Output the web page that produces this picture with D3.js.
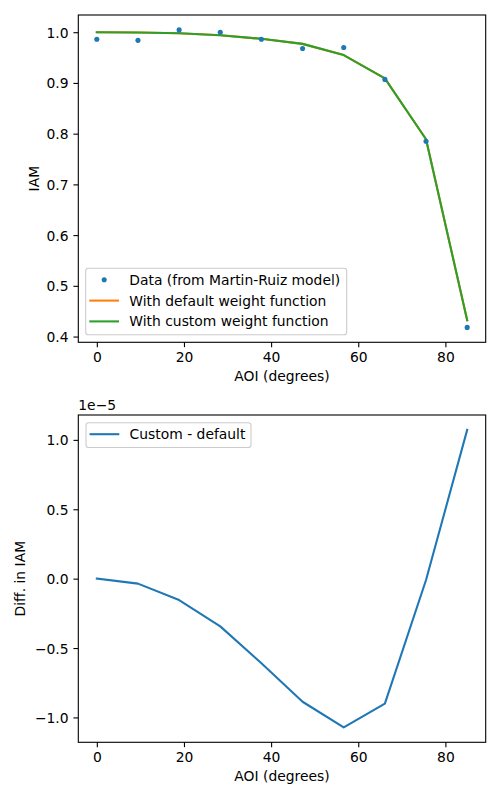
<!DOCTYPE html>
<html><head><meta charset="utf-8">
<script src="https://cdn.jsdelivr.net/npm/d3@7"></script>
<style>body{margin:0;background:#fff}svg{display:block}text{font-family:"DejaVu Sans",sans-serif;fill:#000}</style>
</head><body>
<script>
// ---- data ----
const aoi = [0, 9.444, 18.889, 28.333, 37.778, 47.222, 56.667, 66.111, 75.556, 85];
const iamData = [0.986, 0.984, 1.0046, 1.000, 0.986, 0.968, 0.970, 0.907, 0.785, 0.418];
const iamDefault = [1.000, 0.9995, 0.998, 0.994, 0.987, 0.977, 0.955, 0.909, 0.789, 0.432];
const iamCustom = [1.000, 0.9995, 0.998, 0.994, 0.987, 0.977, 0.955, 0.909, 0.789, 0.432];
const diffScaled = [0, -0.036, -0.154, -0.344, -0.61, -0.887, -1.072, -0.901, -0.01, 1.072]; // x 1e-5
const xTicks = [0, 20, 40, 60, 80];
const yTicksTop = [0.4, 0.5, 0.6, 0.7, 0.8, 0.9, 1.0];
const yTicksBottom = [-1.0, -0.5, 0.0, 0.5, 1.0];
const legendTop = ["Data (from Martin-Ruiz model)", "With default weight function", "With custom weight function"];
const legendBottom = ["Custom - default"];
const colors = {blue:"#1f77b4", orange:"#ff7f0e", green:"#2ca02c"};

const W = 500, H = 800, FS = 13.89, TL = 4.86, PAD = 4.86, DOT_R = 2.55;
const svg = d3.select("body").append("svg").attr("width", W).attr("height", H);

function pad(ext){ const r = ext[1]-ext[0]; return [ext[0]-0.05*r, ext[1]+0.05*r]; }
const fmtMinus = s => s.replace("-", "\u2212");

function makeAxes(top, bottom, yDomain, yTicks, yFmt, yLabel, yLabelX){
  const left = 78.3, right = 485.7;
  const x = d3.scaleLinear().domain(pad(d3.extent(aoi))).range([left, right]);
  const y = d3.scaleLinear().domain(yDomain).range([bottom, top]);
  const g = svg.append("g");
  const xa = g.append("g").attr("transform", `translate(0,${bottom})`)
    .call(d3.axisBottom(x).tickValues(xTicks).tickSize(TL).tickPadding(PAD).tickFormat(d3.format("d")));
  xa.select(".domain").remove();
  xa.selectAll("line").attr("stroke", "#000").attr("stroke-width", 1.1);
  xa.selectAll("text").attr("font-size", FS).attr("dy", null).attr("y", TL + PAD + 10.2);
  const ya = g.append("g").attr("transform", `translate(${left},0)`)
    .call(d3.axisLeft(y).tickValues(yTicks).tickSize(TL).tickPadding(PAD).tickFormat(d => fmtMinus(yFmt(d))));
  ya.select(".domain").remove();
  ya.selectAll("line").attr("stroke", "#000").attr("stroke-width", 1.1);
  ya.selectAll("text").attr("font-size", FS).attr("dy", "0.36em");
  ya.attr("font-family", null); xa.attr("font-family", null);
  g.append("text").attr("x", (left+right)/2).attr("y", bottom + 38.7).attr("text-anchor", "middle")
    .attr("font-size", FS).text("AOI (degrees)");
  g.append("text").attr("transform", `translate(${yLabelX},${(top+bottom)/2}) rotate(-90)`)
    .attr("text-anchor", "middle").attr("font-size", FS).text(yLabel);
  return {x, y, g, left, right, top, bottom};
}

function frame(ax){
  ax.g.append("rect").attr("x", ax.left).attr("y", ax.top).attr("width", ax.right-ax.left)
    .attr("height", ax.bottom-ax.top).attr("fill", "none").attr("stroke", "#000").attr("stroke-width", 1.1);
}

function legend(x0, y0, w, items){
  const g = svg.append("g");
  const h = items.length * 20.8 + 4;
  g.append("rect").attr("x", x0).attr("y", y0).attr("width", w).attr("height", h).attr("rx", 2.8)
    .attr("fill", "#fff").attr("fill-opacity", 0.8).attr("stroke", "#cccccc").attr("stroke-width", 1.1);
  items.forEach((it, i) => {
    const cy = y0 + 11.5 + i * 20.8;
    if (it.type === "dot") {
      g.append("circle").attr("cx", x0 + 18.5).attr("cy", cy).attr("r", DOT_R).attr("fill", it.color);
    } else {
      g.append("line").attr("x1", x0 + 3.6).attr("x2", x0 + 33.3).attr("y1", cy).attr("y2", cy)
        .attr("stroke", it.color).attr("stroke-width", 2.08);
    }
    g.append("text").attr("x", x0 + 43.6).attr("y", cy).attr("dy", "0.36em").attr("font-size", FS).text(it.label);
  });
}

// ---- top plot ----
const topDom = pad(d3.extent(iamData.concat(iamDefault, iamCustom)));
const ax1 = makeAxes(15, 342.3, topDom, yTicksTop, d3.format(".1f"), "IAM", 38.5);
const line1 = d3.line().x((d, i) => ax1.x(aoi[i])).y(d => ax1.y(d));
ax1.g.append("path").datum(iamDefault).attr("d", line1).attr("fill", "none").attr("stroke", colors.orange).attr("stroke-width", 2.08).attr("stroke-linejoin", "round").attr("stroke-linecap", "square");
ax1.g.append("path").datum(iamCustom).attr("d", line1).attr("fill", "none").attr("stroke", colors.green).attr("stroke-width", 2.08).attr("stroke-linejoin", "round").attr("stroke-linecap", "square");
ax1.g.selectAll("circle.pt").data(iamData).join("circle").attr("class", "pt")
  .attr("cx", (d, i) => ax1.x(aoi[i])).attr("cy", d => ax1.y(d)).attr("r", DOT_R).attr("fill", colors.blue);
frame(ax1);
legend(85.7, 268.3, 261, [
  {type: "dot", color: colors.blue, label: legendTop[0]},
  {type: "line", color: colors.orange, label: legendTop[1]},
  {type: "line", color: colors.green, label: legendTop[2]}
]);

// ---- bottom plot ----
const botDom = pad(d3.extent(diffScaled));
const ax2 = makeAxes(415, 742.3, botDom, yTicksBottom, d3.format(".1f"), "Diff. in IAM", 25);
const line2 = d3.line().x((d, i) => ax2.x(aoi[i])).y(d => ax2.y(d));
ax2.g.append("path").datum(diffScaled).attr("d", line2).attr("fill", "none").attr("stroke", colors.blue).attr("stroke-width", 2.08).attr("stroke-linejoin", "round").attr("stroke-linecap", "square");
frame(ax2);
svg.append("text").attr("x", 78.3).attr("y", 410).attr("font-size", FS).text("1e\u22125");
legend(86, 422.7, 165, [{type: "line", color: colors.blue, label: legendBottom[0]}]);
</script>
</body></html>
